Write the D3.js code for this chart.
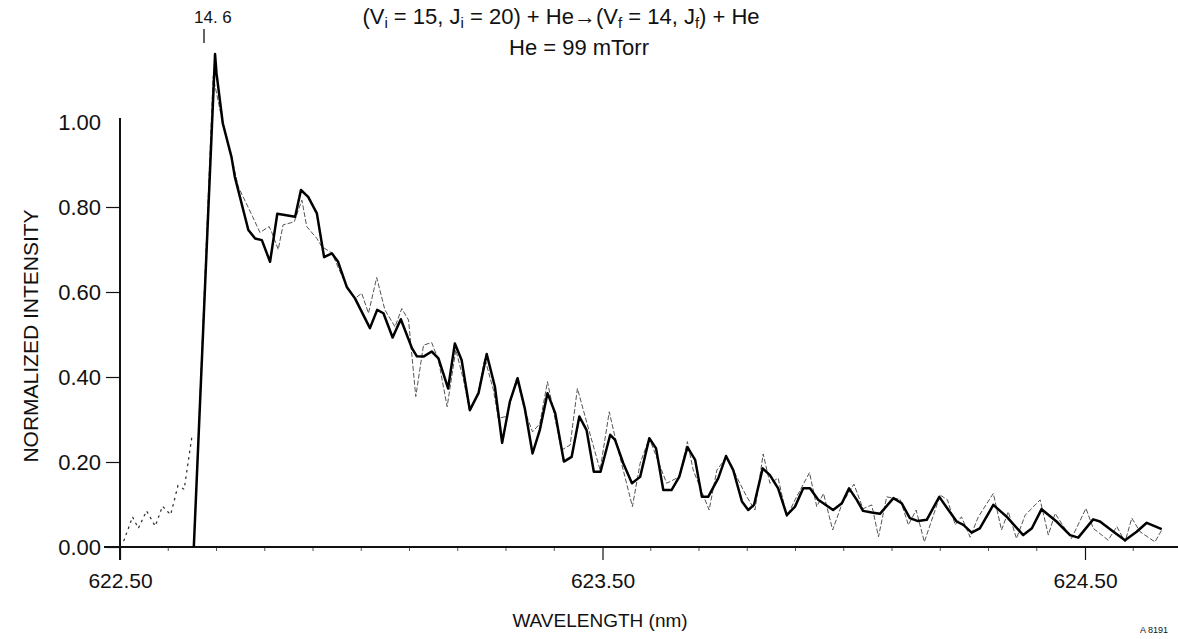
<!DOCTYPE html>
<html>
<head>
<meta charset="utf-8">
<script src="https://cdn.jsdelivr.net/npm/d3@7"></script>
<style>
  html, body { margin: 0; padding: 0; background: #fff; }
  svg { display: block; }
  text { font-family: "Liberation Sans", Arial, Helvetica, sans-serif; fill: #111; }
</style>
</head>
<body>
<svg id="chart" width="1178" height="639"></svg>
<script>
// Measured spectrum (heavy trace): wavelength (nm) and normalized intensity
const measWavelength = [622.653,622.697,622.700,622.713,622.731,622.738,622.759,622.766,622.780,622.794,
  622.811,622.826,622.863,622.875,622.890,622.908,622.923,622.939,622.952,622.970,
  622.987,623.018,623.033,623.046,623.065,623.082,623.105,623.115,623.129,623.146,
  623.160,623.180,623.194,623.208,623.225,623.243,623.260,623.277,623.292,623.308,
  623.324,623.339,623.355,623.370,623.386,623.402,623.420,623.436,623.452,623.467,
  623.482,623.496,623.516,623.526,623.543,623.561,623.578,623.597,623.611,623.626,
  623.643,623.659,623.676,623.692,623.706,623.719,623.740,623.756,623.771,623.789,
  623.802,623.814,623.832,623.847,623.864,623.882,623.899,623.916,623.930,623.947,
  623.978,623.996,624.011,624.027,624.040,624.058,624.075,624.103,624.120,624.137,
  624.154,624.172,624.198,624.217,624.234,624.248,624.265,624.282,624.310,624.338,
  624.372,624.390,624.410,624.441,624.469,624.486,624.517,624.531,624.559,624.583,
  624.607,624.628,624.659];
const measIntensity = [0.000,1.160,1.115,0.997,0.918,0.871,0.777,0.746,0.726,0.722,
  0.671,0.784,0.777,0.840,0.824,0.785,0.682,0.691,0.671,0.612,
  0.585,0.515,0.558,0.550,0.493,0.536,0.468,0.449,0.448,0.460,
  0.444,0.373,0.479,0.440,0.322,0.362,0.454,0.377,0.245,0.342,
  0.397,0.326,0.220,0.275,0.362,0.315,0.201,0.212,0.307,0.275,
  0.177,0.177,0.264,0.252,0.197,0.150,0.165,0.256,0.232,0.134,
  0.134,0.165,0.235,0.205,0.118,0.118,0.162,0.214,0.181,0.107,
  0.087,0.099,0.185,0.169,0.138,0.075,0.095,0.138,0.138,0.111,
  0.087,0.103,0.138,0.111,0.085,0.081,0.078,0.115,0.103,0.068,
  0.061,0.064,0.118,0.087,0.060,0.052,0.034,0.044,0.099,0.071,
  0.028,0.044,0.089,0.060,0.028,0.022,0.065,0.060,0.036,0.016,
  0.036,0.057,0.042];

// Simulated spectrum (light dashed trace)
const simWavelength = [622.653,622.693,622.713,622.731,622.745,622.775,622.790,622.809,622.814,622.828,
  622.838,622.861,622.877,622.887,622.908,622.918,622.939,622.970,622.987,623.001,
  623.015,623.032,623.049,623.070,623.084,623.098,623.113,623.129,623.146,623.160,
  623.178,623.196,623.212,623.225,623.243,623.256,623.274,623.284,623.301,623.322,
  623.339,623.355,623.370,623.386,623.415,623.433,623.448,623.464,623.495,623.514,
  623.529,623.562,623.578,623.597,623.633,623.659,623.676,623.688,623.721,623.737,
  623.756,623.771,623.799,623.816,623.833,623.847,623.864,623.882,623.899,623.929,
  623.944,623.958,623.977,623.996,624.021,624.040,624.058,624.072,624.089,624.103,
  624.117,624.134,624.150,624.167,624.200,624.215,624.231,624.244,624.262,624.279,
  624.310,624.327,624.341,624.358,624.376,624.407,624.424,624.438,624.472,624.502,
  624.517,624.548,624.566,624.583,624.597,624.614,624.645,624.659];
const simIntensity = [0.000,1.107,0.997,0.918,0.848,0.777,0.740,0.754,0.742,0.700,
  0.758,0.765,0.816,0.754,0.726,0.707,0.692,0.612,0.585,0.597,
  0.550,0.634,0.558,0.518,0.561,0.534,0.354,0.475,0.481,0.440,
  0.330,0.464,0.393,0.318,0.365,0.444,0.369,0.303,0.307,0.397,
  0.320,0.271,0.290,0.389,0.228,0.240,0.373,0.307,0.181,0.318,
  0.244,0.095,0.197,0.256,0.150,0.165,0.248,0.181,0.087,0.181,
  0.210,0.181,0.118,0.087,0.219,0.150,0.162,0.071,0.111,0.175,
  0.095,0.126,0.040,0.100,0.148,0.090,0.099,0.024,0.118,0.115,
  0.112,0.052,0.087,0.012,0.122,0.111,0.052,0.071,0.023,0.071,
  0.126,0.040,0.083,0.020,0.075,0.111,0.028,0.079,0.020,0.091,
  0.044,0.016,0.048,0.012,0.068,0.036,0.012,0.040];

// Simulated wing below the band head (dotted)
const wingWavelength = [622.508,622.526,622.538,622.555,622.573,622.588,622.605,622.620,622.633,622.650];
const wingIntensity = [0.015,0.071,0.044,0.085,0.049,0.096,0.076,0.144,0.136,0.267];

const yTicks = [0.00, 0.20, 0.40, 0.60, 0.80, 1.00];
const xMajorTicks = [622.50, 623.50, 624.50];

const svg = d3.select("#chart");
const FONT = "'Liberation Sans', Arial, sans-serif";

const x = d3.scaleLinear().domain([622.5, 624.5]).range([120, 1085]);
const y = d3.scaleLinear().domain([0, 1]).range([547, 122]);

const axisColor = "#111";

// x ticks: short minor ticks every 0.1 nm between the labelled ones
const minor = d3.range(1, 22).map(i => +(622.5 + i * 0.1).toFixed(1))
  .filter(v => !xMajorTicks.includes(v));
svg.append("g").selectAll("line").data(minor).join("line")
  .attr("x1", d => x(d)).attr("x2", d => x(d))
  .attr("y1", y(0)).attr("y2", y(0) + 4)
  .attr("stroke", "#444").attr("stroke-width", 0.9);

const xAxis = d3.axisBottom(x).tickValues(xMajorTicks).tickFormat(d3.format(".2f"))
  .tickSize(13).tickPadding(13);
const gx = svg.append("g").attr("transform", `translate(0,${y(0)})`).call(xAxis);
gx.select(".domain").remove();
gx.selectAll(".tick line").attr("stroke", axisColor).attr("stroke-width", 1.2);
gx.selectAll(".tick text").attr("font-size", 21)
  .attr("font-family", FONT).attr("fill", "#111");

// y ticks and labels
const yAxis = d3.axisLeft(y).tickValues(yTicks).tickFormat(d3.format(".2f"))
  .tickSize(14).tickPadding(5);
const gy = svg.append("g").attr("transform", `translate(${x(622.5)},0)`).call(yAxis);
gy.select(".domain").remove();
gy.selectAll(".tick line").attr("stroke", axisColor).attr("stroke-width", 1.2)
  .filter(d => d === 1).remove();
gy.selectAll(".tick text").attr("font-size", 22)
  .attr("font-family", FONT).attr("fill", "#111");

// Axis lines: baseline runs past the plot to the right edge
svg.append("line").attr("x1", 104).attr("x2", 1178)
  .attr("y1", y(0)).attr("y2", y(0))
  .attr("stroke", axisColor).attr("stroke-width", 2);
svg.append("line").attr("x1", x(622.5)).attr("x2", x(622.5))
  .attr("y1", 118).attr("y2", 560)
  .attr("stroke", axisColor).attr("stroke-width", 2);

// Traces
const line = d3.line().x(d => x(d[0])).y(d => y(d[1]));
const simPts = simWavelength.map((w, i) => [w, simIntensity[i]]);
const measPts = measWavelength.map((w, i) => [w, measIntensity[i]]);
const wingPts = wingWavelength.map((w, i) => [w, wingIntensity[i]]);

svg.append("path").attr("d", line(wingPts))
  .attr("fill", "none").attr("stroke", "#333").attr("stroke-width", 1.3)
  .attr("stroke-dasharray", "1.5,5").attr("stroke-linecap", "round");
svg.append("path").attr("d", line(simPts))
  .attr("fill", "none").attr("stroke", "#555").attr("stroke-width", 1)
  .attr("stroke-dasharray", "5,2");
svg.append("path").attr("d", line(measPts))
  .attr("fill", "none").attr("stroke", "#000").attr("stroke-width", 2.5)
  .attr("stroke-linejoin", "round");

// Axis titles
svg.append("text").attr("x", 600).attr("y", 627).attr("text-anchor", "middle")
  .attr("font-size", 19).text("WAVELENGTH (nm)");
svg.append("text").attr("transform", "translate(38,336) rotate(-90)")
  .attr("text-anchor", "middle").attr("font-size", 21).text("NORMALIZED INTENSITY");

// Header: band marker and transition
svg.append("text").attr("x", 194).attr("y", 23).attr("font-size", 17).text("14. 6");
svg.append("line").attr("x1", 204).attr("x2", 204).attr("y1", 29).attr("y2", 43)
  .attr("stroke", "#111").attr("stroke-width", 1.3);

const title = svg.append("text").attr("x", 561).attr("y", 24)
  .attr("text-anchor", "middle").attr("font-size", 22);
const parts = [
  ["(V", 0], ["i", 1], [" = 15, J", 0], ["i", 1], [" = 20) + He", 0], ["\u2192", 0],
  ["(V", 0], ["f", 1], [" = 14, J", 0], ["f", 1], [") + He", 0]
];
parts.forEach(([t, sub]) => {
  const ts = title.append("tspan").text(t);
  if (sub) ts.attr("font-size", 15).attr("baseline-shift", "-25%");
});
svg.append("text").attr("x", 579).attr("y", 55).attr("text-anchor", "middle")
  .attr("font-size", 22).text("He = 99 mTorr");

svg.append("text").attr("x", 1140).attr("y", 633).attr("font-size", 9).text("A 8191");
</script>
</body>
</html>
